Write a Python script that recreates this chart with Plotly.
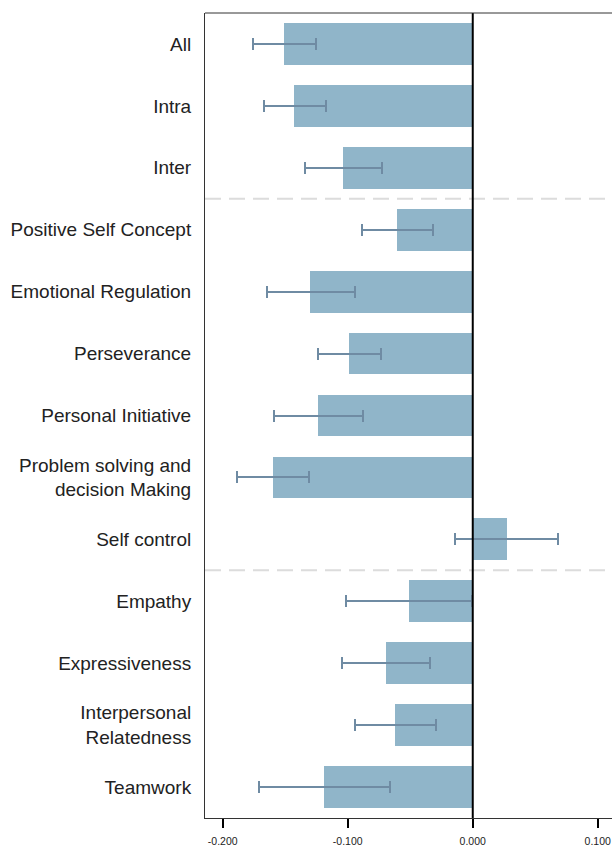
import plotly.graph_objects as go

categories = ["All", "Intra", "Inter",
              "Positive Self Concept", "Emotional Regulation", "Perseverance",
              "Personal Initiative", "Problem solving and<br>decision Making", "Self control",
              "Empathy", "Expressiveness", "Interpersonal<br>Relatedness", "Teamwork"]
groups = ["overall"] * 3 + ["intra"] * 6 + ["inter"] * 4
estimates = [-0.1510, -0.1430, -0.1038,
             -0.0606, -0.1302, -0.0990, -0.1238, -0.1598, 0.0274,
             -0.0510, -0.0694, -0.0622, -0.1190]
ci_low = [-0.1755, -0.1671, -0.1342,
          -0.0887, -0.1648, -0.1235, -0.1590, -0.1886, -0.0142,
          -0.1011, -0.1043, -0.0939, -0.1710]
ci_high = [-0.1254, -0.1176, -0.0723,
           -0.0315, -0.0942, -0.0734, -0.0880, -0.1310, 0.0685,
           -0.0008, -0.0342, -0.0291, -0.0662]
x_ticks = [-0.2, -0.1, 0.0, 0.1]
x_tick_labels = ["-0.200", "-0.100", "0.000", "0.100"]

err_plus = [h - e for h, e in zip(ci_high, estimates)]
err_minus = [e - l for e, l in zip(estimates, ci_low)]

fig = go.Figure()
fig.add_trace(go.Bar(
    y=categories, x=estimates, orientation="h",
    marker=dict(color="#90b5c9", line=dict(width=0)),
    width=0.674,
    error_x=dict(type="data", symmetric=False, array=err_plus, arrayminus=err_minus,
                 color="#6f8ba3", thickness=2, width=6),
    showlegend=False,
))

shapes = []
# separators between groups
for i in range(1, len(groups)):
    if groups[i] != groups[i - 1]:
        shapes.append(dict(type="line", xref="paper", yref="y", x0=0, x1=1,
                           y0=i - 0.5, y1=i - 0.5,
                           line=dict(color="#dcdcdc", width=2, dash="16px,8px"),
                           layer="below"))
# zero line
shapes.append(dict(type="line", xref="x", yref="paper", x0=0, x1=0, y0=0, y1=1,
                   line=dict(color="black", width=2)))
# top frame line
shapes.append(dict(type="line", xref="paper", yref="paper", x0=0, x1=1, y0=1, y1=1,
                   line=dict(color="#333333", width=1)))

fig.update_layout(
    width=612, height=852,
    margin=dict(l=205, r=0, t=13, b=34),
    paper_bgcolor="white", plot_bgcolor="white",
    font=dict(family="Liberation Sans, Arial, sans-serif", color="#222222"),
    shapes=shapes,
    bargap=0,
)
fig.update_xaxes(
    range=[-0.2142, 0.1114], tickvals=x_ticks, ticktext=x_tick_labels,
    showgrid=False, zeroline=False,
    showline=True, linecolor="#333333", linewidth=1,
    ticks="outside", ticklen=9, tickcolor="black", tickwidth=1.5,
    ticklabelstandoff=4,
    tickfont=dict(size=10.5, color="#222222"),
)
fig.update_yaxes(
    range=[len(categories) - 0.5, -0.5], type="category",
    showgrid=False, zeroline=False,
    showline=True, linecolor="#333333", linewidth=1,
    ticks="", ticklabelstandoff=9,
    tickfont=dict(size=19, color="#222222"),
)

fig.write_html("out.html")
